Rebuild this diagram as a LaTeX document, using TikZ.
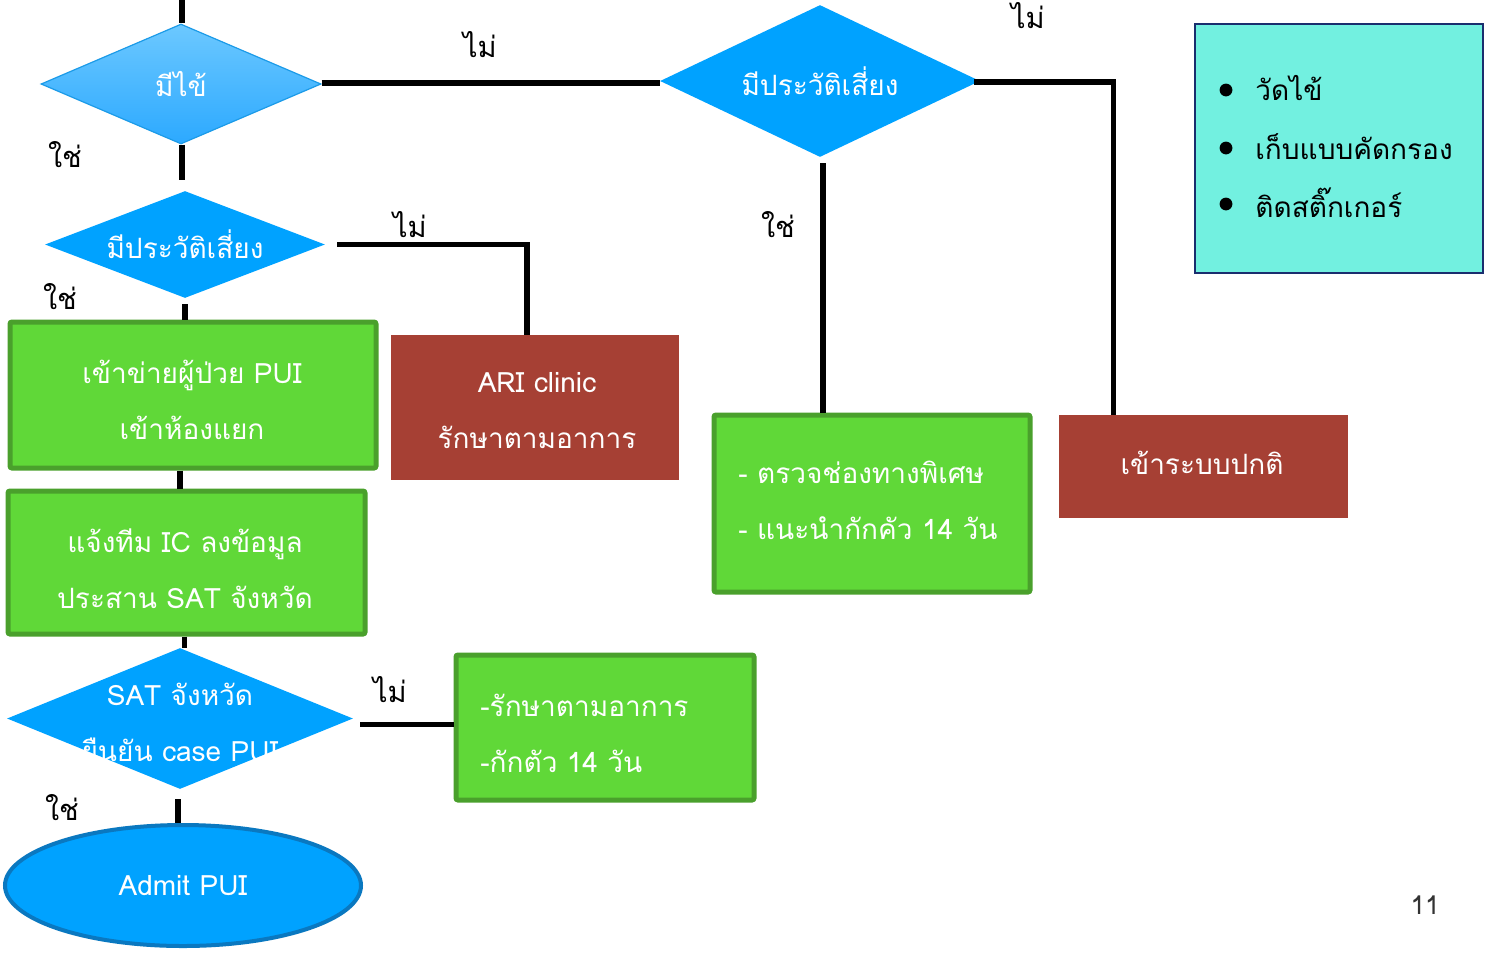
\documentclass[tikz,border=0pt]{standalone}
\usepackage{fontspec}
\setmainfont{Loma}[Script=Thai]
\usetikzlibrary{shapes.geometric}
\definecolor{dblue}{HTML}{00A2FF}
\definecolor{lblueT}{HTML}{6CC8FF}
\definecolor{lblueB}{HTML}{2CA9FF}
\definecolor{dblueedge}{HTML}{1C9BE8}
\definecolor{gfill}{HTML}{60D838}
\definecolor{gedge}{HTML}{4AA02C}
\definecolor{brick}{HTML}{A64034}
\definecolor{cyanbox}{HTML}{72F0E0}
\definecolor{navy}{HTML}{1A2E6E}
\definecolor{elledge}{HTML}{0A78C0}
\begin{document}
\begin{tikzpicture}[x=0.5pt,y=-0.5pt,
  conn/.style={line width=2.7pt,black},
  dia/.style={diamond,inner sep=0pt,fill=dblue},
  wtxt/.style={text=white,font=\fontsize{14}{28}\selectfont,align=center,inner sep=0pt},
  btxt/.style={text=black,font=\fontsize{14}{28}\selectfont,inner sep=0pt},
  gbox/.style={rectangle,fill=gfill,draw=gedge,line width=2.5pt,rounded corners=1pt,inner sep=0pt},
  rbox/.style={rectangle,fill=brick,inner sep=0pt},
  lab/.style={text=black,font=\fontsize{14.5}{16}\selectfont,inner sep=0pt}
]
\useasboundingbox (0,0) rectangle (1495,955);
\fill[white] (0,0) rectangle (1495,955);

% nodes
\coordinate (top) at (182,0);
\node[dia,top color=lblueT,bottom color=lblueB,draw=dblueedge,line width=0.6pt,minimum width=140pt,minimum height=60pt] (d1) at (181,84) {};
\node[wtxt] at (d1) {มีไข้};
\node[dia,minimum width=160pt,minimum height=76pt] (d2) at (820,81) {};
\node[wtxt] at (d2) {มีประวัติเสี่ยง};
\node[dia,minimum width=140pt,minimum height=53.5pt] (d3) at (185,244.5) {};
\node[wtxt] at (d3) {มีประวัติเสี่ยง};
\node[gbox,minimum width=183pt,minimum height=73pt] (b1) at (193,395) {};
\node[wtxt] at (192,400) {เข้าข่ายผู้ป่วย PUI\\เข้าห้องแยก};
\node[rbox,minimum width=144pt,minimum height=72.5pt] (ari) at (535,407.5) {};
\node[wtxt] at (537,411) {ARI clinic\\รักษาตามอาการ};
\node[gbox,minimum width=178.5pt,minimum height=71.5pt] (b2) at (186.5,562.5) {};
\node[wtxt] at (185,569) {แจ้งทีม IC ลงข้อมูล\\ประสาน SAT จังหวัด};
\node[dia,minimum width=173pt,minimum height=70.5pt] (d4) at (180,718.5) {};
\node[wtxt] at (180,722) {SAT จังหวัด\\ยืนยัน case PUI};
\node[gbox,minimum width=149pt,minimum height=72.5pt] (b3) at (605,727.5) {};
\node[wtxt,anchor=west,align=left] at (480,733) {-รักษาตามอาการ\\-กักตัว 14 วัน};
\node[ellipse,fill=dblue,draw=elledge,line width=2pt,minimum width=178pt,minimum height=60.5pt,inner sep=0pt] (ell) at (183,885.5) {};
\node[wtxt] at (ell) {Admit PUI};
\node[gbox,minimum width=158pt,minimum height=88.5pt] (b4) at (872,503.5) {};
\node[wtxt,anchor=west,align=left] at (738,500) {- ตรวจช่องทางพิเศษ\\- แนะนำกักคัว 14 วัน};
\node[rbox,minimum width=144.5pt,minimum height=51.5pt] (r2) at (1203.5,466.5) {};
\node[wtxt] at (1202,463) {เข้าระบบปกติ};
\node[rectangle,fill=cyanbox,draw=navy,line width=1.2pt,minimum width=144pt,minimum height=124.5pt,inner sep=0pt] (cy) at (1339,148.5) {};
\fill[black] (1226,90) circle (3.2pt);
\fill[black] (1226,148) circle (3.2pt);
\fill[black] (1226,204) circle (3.2pt);
\node[btxt,anchor=west] at (1255,88) {วัดไข้};
\node[btxt,anchor=west] at (1255,147) {เก็บแบบคัดกรอง};
\node[btxt,anchor=west] at (1255,203) {ติดสติ๊กเกอร์};

% labels
\node[lab] at (480,45) {ไม่};
\node[lab] at (1028,16) {ไม่};
\node[lab] at (65,155) {ใช่};
\node[lab] at (778,225) {ใช่};
\node[lab] at (410,225) {ไม่};
\node[lab] at (60,297) {ใช่};
\node[lab] at (390,690) {ไม่};
\node[lab] at (62,808) {ใช่};
\node[text=black!80,font=\fontsize{13}{15}\selectfont,inner sep=0pt] at (1425,905) {11};

% connectors
\draw[conn] (top) -- (top |- d1.north);
\draw[conn] ([yshift=0.5pt]d1.east) -- ([yshift=0.5pt]d1.east -| d2.west);
\draw[conn] ([xshift=0.5pt]d1.south) -- ([xshift=0.5pt]d1.south |- 0,180);
\draw[conn,shorten <=6pt] (d3.east) -| ([xshift=-4pt]ari.north);
\draw[conn,shorten <=3pt] (d3.south) -- (d3.south |- b1.north);
\draw[conn] ([xshift=-6.5pt]b1.south) -- ([xshift=-6.5pt]b1.south |- b2.north);
\draw[conn] ([xshift=-1pt]b2.south) -- ([xshift=-1pt]b2.south |- d4.north);
\draw[conn,shorten <=3.5pt] ([yshift=-3pt]d4.east) -- ([yshift=-3pt]d4.east -| b3.west);
\draw[conn,shorten <=5pt] ([xshift=-1pt]d4.south) -- ([xshift=-1pt]d4.south |- ell.north);
\draw[conn,shorten <=3pt] ([xshift=1.5pt]d2.south) -- ([xshift=1.5pt]d2.south |- b4.north);
\draw[conn] ([xshift=-3pt,yshift=-0.5pt]d2.east) -| ([xshift=-45pt]r2.north);
\end{tikzpicture}
\end{document}
